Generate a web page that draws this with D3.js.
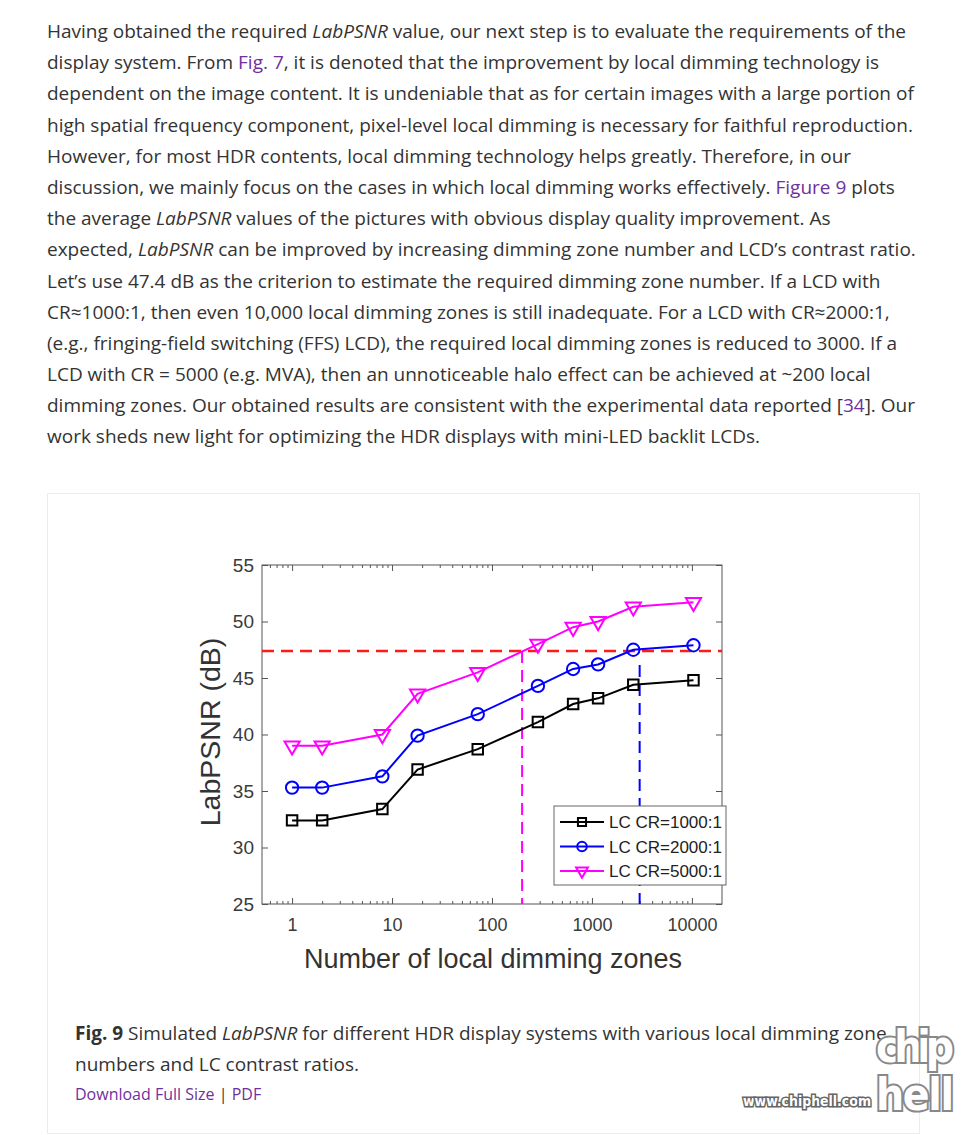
<!DOCTYPE html>
<html>
<head>
<meta charset="utf-8">
<script src="https://cdn.jsdelivr.net/npm/d3@7"></script>
<style>
  body { margin: 0; background: #fff; width: 970px; height: 1135px; position: relative; overflow: hidden; }
  .txt { position: absolute; left: 47px; font-family: "Open Sans", sans-serif; font-size: 19px; color: #333; white-space: nowrap; }
  .txt div { height: 31.2px; line-height: 31.2px; }
  a { color: #7030a0; text-decoration: none; }
  #figbox { position: absolute; left: 47px; top: 493px; width: 871px; height: 639px; border: 1px solid #ececec; }
  #chart { position: absolute; left: 0; top: 0; }
</style>
</head>
<body>
<div class="txt" style="top:16px">
  <div>Having obtained the required <i>LabPSNR</i> value, our next step is to evaluate the requirements of the</div>
  <div>display system. From <a>Fig. 7</a>, it is denoted that the improvement by local dimming technology is</div>
  <div>dependent on the image content. It is undeniable that as for certain images with a large portion of</div>
  <div>high spatial frequency component, pixel-level local dimming is necessary for faithful reproduction.</div>
  <div>However, for most HDR contents, local dimming technology helps greatly. Therefore, in our</div>
  <div>discussion, we mainly focus on the cases in which local dimming works effectively. <a>Figure 9</a> plots</div>
  <div>the average <i>LabPSNR</i> values of the pictures with obvious display quality improvement. As</div>
  <div>expected, <i>LabPSNR</i> can be improved by increasing dimming zone number and LCD’s contrast ratio.</div>
  <div>Let’s use 47.4 dB as the criterion to estimate the required dimming zone number. If a LCD with</div>
  <div>CR≈1000:1, then even 10,000 local dimming zones is still inadequate. For a LCD with CR≈2000:1,</div>
  <div>(e.g., fringing-field switching (FFS) LCD), the required local dimming zones is reduced to 3000. If a</div>
  <div>LCD with CR = 5000 (e.g. MVA), then an unnoticeable halo effect can be achieved at ~200 local</div>
  <div>dimming zones. Our obtained results are consistent with the experimental data reported [<a>34</a>]. Our</div>
  <div>work sheds new light for optimizing the HDR displays with mini-LED backlit LCDs.</div>
</div>
<div id="figbox"></div>
<div class="txt" style="top:1018px; left:75px">
  <div><b>Fig. 9</b> Simulated <i>LabPSNR</i> for different HDR display systems with various local dimming zone</div>
  <div>numbers and LC contrast ratios.</div>
  <div style="font-size:16px; height:28px; line-height:28px"><a>Download Full Size</a> | <a>PDF</a></div>
</div>
<svg id="chart" width="970" height="1135"></svg>
<script>
// values
const zones = [1, 2, 8, 18, 72, 288, 648, 1152, 2592, 10368];
const cr1000 = [32.4, 32.4, 33.4, 36.9, 38.7, 41.1, 42.7, 43.2, 44.4, 44.8];
const cr2000 = [35.3, 35.3, 36.3, 39.9, 41.8, 44.3, 45.8, 46.2, 47.5, 47.9];
const cr5000 = [39.0, 39.0, 40.0, 43.6, 45.5, 48.0, 49.5, 50.0, 51.3, 51.7];
const seriesNames = ["LC CR=1000:1", "LC CR=2000:1", "LC CR=5000:1"];
const criterion = 47.4;
const requiredZones = [200, 3000];
const xTicks = [1, 10, 100, 1000, 10000];
const yTicks = [25, 30, 35, 40, 45, 50, 55];

const svg = d3.select("#chart");
const pL = 262, pR = 722, pT = 565, pB = 904;
const font = "'Liberation Sans', Arial, sans-serif";

const x = d3.scaleLog().domain([0.5, 20000]).range([pL, pR]);
const y = d3.scaleLinear().domain([25, 55]).range([pB, pT]);

// minor ticks of the log axis
const minors = [];
for (let e = -1; e <= 4; e++) {
  for (let m = 2; m <= 9; m++) {
    const v = m * Math.pow(10, e);
    if (v > 0.5 && v < 20000) minors.push(v);
  }
}

const axisColor = "#555";
function styleAxis(g) {
  g.select(".domain").remove();
  g.selectAll("line").attr("stroke", axisColor).attr("stroke-width", 1);
  g.selectAll("text").attr("fill", "#3a3a3a").attr("font-family", font);
}

// frame
svg.append("rect")
  .attr("x", pL).attr("y", pT)
  .attr("width", pR - pL).attr("height", pB - pT)
  .attr("fill", "none").attr("stroke", axisColor).attr("stroke-width", 1);

svg.append("g").attr("transform", `translate(0,${pB})`)
  .call(d3.axisBottom(x).tickValues(xTicks).tickFormat(d3.format("d")).tickSize(-6).tickPadding(14))
  .call(styleAxis).selectAll("text").attr("font-size", 18);
svg.append("g").attr("transform", `translate(0,${pB})`)
  .call(d3.axisBottom(x).tickValues(minors).tickFormat("").tickSize(-3))
  .call(styleAxis);
svg.append("g").attr("transform", `translate(0,${pT})`)
  .call(d3.axisTop(x).tickValues(xTicks).tickFormat("").tickSize(-6))
  .call(styleAxis);
svg.append("g").attr("transform", `translate(0,${pT})`)
  .call(d3.axisTop(x).tickValues(minors).tickFormat("").tickSize(-3))
  .call(styleAxis);
svg.append("g").attr("transform", `translate(${pL},0)`)
  .call(d3.axisLeft(y).tickValues(yTicks).tickSize(-6).tickPadding(8))
  .call(styleAxis).selectAll("text").attr("font-size", 19);
svg.append("g").attr("transform", `translate(${pR},0)`)
  .call(d3.axisRight(y).tickValues(yTicks).tickFormat("").tickSize(-6))
  .call(styleAxis);

// axis titles
svg.append("text")
  .attr("x", 493).attr("y", 968)
  .attr("text-anchor", "middle").attr("font-family", font).attr("font-size", 27)
  .attr("fill", "#333").text("Number of local dimming zones");
svg.append("text")
  .attr("transform", `translate(220,732) rotate(-90)`)
  .attr("text-anchor", "middle").attr("font-family", font).attr("font-size", 28.5)
  .attr("fill", "#333").text("LabPSNR (dB)");

// criterion lines
svg.append("line")
  .attr("x1", pL).attr("x2", pR)
  .attr("y1", y(criterion)).attr("y2", y(criterion))
  .attr("stroke", "#ff1a1a").attr("stroke-width", 2.5).attr("stroke-dasharray", "12,7");
const vColors = ["#ff00ff", "#0000ff"];
const vStart = [0, 14];
requiredZones.forEach((z, i) => {
  svg.append("line")
    .attr("x1", x(z)).attr("x2", x(z))
    .attr("y1", y(criterion) + vStart[i]).attr("y2", y(25))
    .attr("stroke", vColors[i]).attr("stroke-width", 2).attr("stroke-dasharray", "12,7");
});

// series
const series = [
  { vals: cr1000, color: "#000", sym: d3.symbolSquare, size: 110, rot: 0 },
  { vals: cr2000, color: "#0000ff", sym: d3.symbolCircle, size: 120, rot: 0 },
  { vals: cr5000, color: "#ff00ff", sym: d3.symbolTriangle, size: 100, rot: 180 }
];

const line = d3.line().x(d => x(d[0])).y(d => y(d[1]));

series.forEach(s => {
  const pts = zones.map((z, i) => [z, s.vals[i]]);
  svg.append("path").datum(pts)
    .attr("fill", "none").attr("stroke", s.color).attr("stroke-width", 2)
    .attr("d", line);
  svg.append("g").selectAll("path").data(pts).join("path")
    .attr("transform", d => `translate(${x(d[0])},${y(d[1])}) rotate(${s.rot})`)
    .attr("d", d3.symbol(s.sym, s.size))
    .attr("fill", "none").attr("stroke", s.color).attr("stroke-width", 2);
});

// legend
const lg = svg.append("g").attr("transform", "translate(554,806)");
lg.append("rect").attr("width", 172).attr("height", 79)
  .attr("fill", "#fff").attr("stroke", "#666").attr("stroke-width", 1);
seriesNames.forEach((name, i) => {
  const s = series[i];
  const yy = 16 + i * 24.5;
  lg.append("line").attr("x1", 6).attr("x2", 50).attr("y1", yy).attr("y2", yy)
    .attr("stroke", s.color).attr("stroke-width", 2);
  lg.append("path")
    .attr("transform", `translate(28,${yy}) rotate(${s.rot})`)
    .attr("d", d3.symbol(s.sym, s.size * 0.6))
    .attr("fill", "none").attr("stroke", s.color).attr("stroke-width", 2);
  lg.append("text").attr("x", 55).attr("y", yy + 6)
    .attr("font-family", font).attr("font-size", 17).attr("fill", "#222").text(name);
});

// watermark
const wm = svg.append("g");
wm.append("text").attr("x", 743).attr("y", 1106)
  .attr("font-family", "'DejaVu Sans Condensed', sans-serif").attr("font-weight", "bold")
  .attr("font-size", 14).attr("fill", "#fff").attr("stroke", "#666").attr("stroke-width", 3)
  .attr("paint-order", "stroke").attr("textLength", 128).text("www.chiphell.com");
wm.append("text").attr("x", 876).attr("y", 1062)
  .attr("font-family", "'DejaVu Sans Condensed', sans-serif").attr("font-weight", "bold")
  .attr("font-size", 44).attr("fill", "#fff").attr("stroke", "#888").attr("stroke-width", 4)
  .attr("paint-order", "stroke").attr("textLength", 78).text("chip");
wm.append("text").attr("x", 876).attr("y", 1110)
  .attr("font-family", "'DejaVu Sans Condensed', sans-serif").attr("font-weight", "bold")
  .attr("font-size", 44).attr("fill", "#fff").attr("stroke", "#888").attr("stroke-width", 4)
  .attr("paint-order", "stroke").attr("textLength", 78).text("hell");
</script>
</body>
</html>
